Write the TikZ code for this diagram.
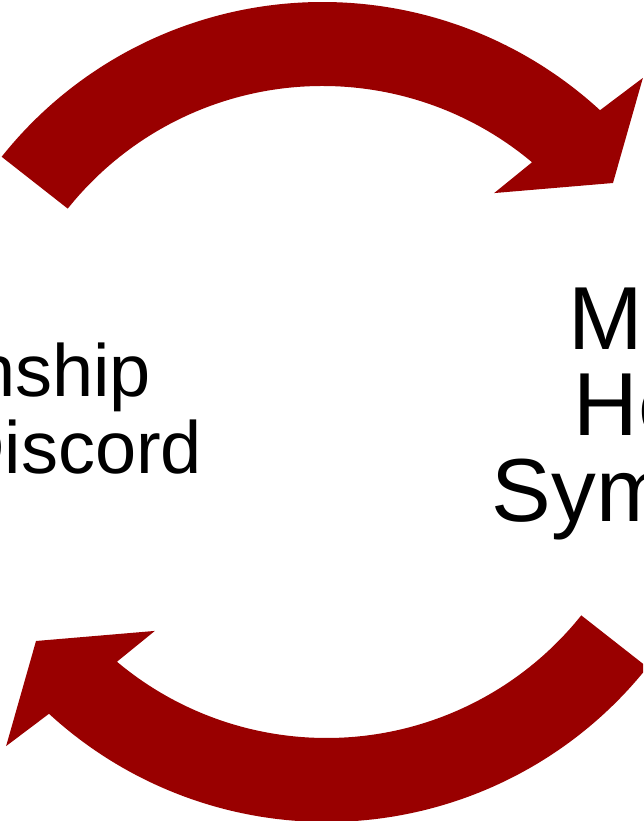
\documentclass[tikz,border=0pt]{standalone}
\usepackage{fontspec}
\setmainfont{Liberation Sans}
\definecolor{arrowred}{HTML}{990000}
\tikzset{
  cyclearrow/.style={fill=arrowred, draw=none},
  lefttext/.style={inner sep=0pt, outer sep=0pt, anchor=base east, font=\fontsize{74}{76}\selectfont},
  righttext/.style={inner sep=0pt, outer sep=0pt, anchor=base, font=\fontsize{89.5}{91}\selectfont}
}
\begin{document}
\begin{tikzpicture}[x=1pt, y=1pt]
\useasboundingbox (0,0) rectangle (643,821);
\clip (0,0) rectangle (643,821);
% top arrow
\begin{scope}[shift={(322.5,409)}]
  \fill[cyclearrow] (141.5:410) arc[start angle=141.5, end angle=47.4, radius=410]
    -- (46.2:462.9) -- (38.25:369.9) -- (51.9:278.2) -- (50.0:326)
    arc[start angle=50.0, end angle=141.4, radius=326] -- cycle;
\end{scope}
% bottom arrow
\begin{scope}[shift={(326.5,409)}, rotate=180]
  \fill[cyclearrow] (141.5:410) arc[start angle=141.5, end angle=47.4, radius=410]
    -- (46.2:462.9) -- (38.25:369.9) -- (51.9:278.2) -- (50.0:326)
    arc[start angle=50.0, end angle=141.4, radius=326] -- cycle;
\end{scope}
% left text (cropped)
\node[lefttext] (rel) at (151,424) {Relationship};
\node[lefttext] (dis) at (202,347.5) {Discord};
% right text (cropped)
\node[righttext] (men) at (703,471) {Mental};
\node[righttext] (hea) at (703,385) {Health};
\node[righttext] (sym) at (703,299) {Symptoms};
\end{tikzpicture}
\end{document}
